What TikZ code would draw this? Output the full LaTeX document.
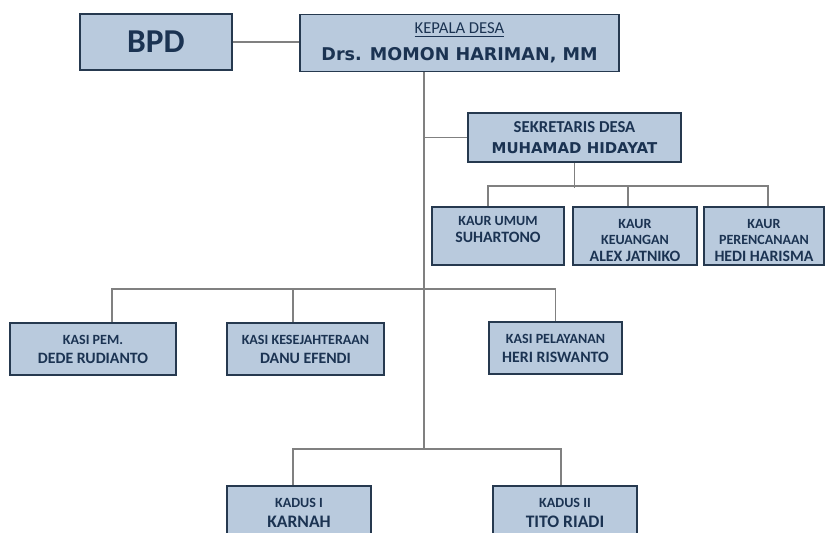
\documentclass[tikz,border=0pt]{standalone}
\usepackage{fontspec}
\setmainfont{Carlito}
\newfontfamily\widefont{DejaVu Sans}
\usetikzlibrary{calc}
\definecolor{Ink}{HTML}{1B3352}
\definecolor{Frame}{HTML}{26394F}
\definecolor{Steel}{HTML}{B9CADD}
\definecolor{Wire}{HTML}{808080}
\newcommand\ttl{\fontsize{8}{9}\selectfont}
\newcommand\nm{\fontsize{9}{9.5}\selectfont}
\newcommand\pad{\rule{0pt}{10pt}}

\begin{document}
\begin{tikzpicture}[x=0.02cm,y=-0.02cm,
  box/.style={draw=Frame,line width=1pt,fill=Steel,inner sep=0pt,align=center,text=Ink,font=\fontsize{9}{9.5}\selectfont\bfseries},
  wh/.style 2 args={minimum width=#1*0.02cm,minimum height=#2*0.02cm},
  link/.style={draw=Wire,line width=1pt}
]
  \clip (0,0) rectangle (825,533);
  \fill[white] (0,0) rectangle (825,533);

  \node[box,wh={152}{56}] (bpd) at (156,42) {\fontsize{19}{21}\selectfont BPD};
  \node[box,wh={319}{57}] (kades) at (459.5,43)
    {{\fontsize{9.5}{10}\selectfont\mdseries\underline{KEPALA DESA}}\\[5.5pt]
     {\widefont\fontsize{10}{11}\selectfont Drs. MOMON HARIMAN, MM}};

  \node[box,wh={213}{49}] (sekdes) at (574.5,137.5)
    {{\fontsize{9.5}{10}\selectfont SEKRETARIS DESA}\\[2.5pt]
     {\widefont\fontsize{8.5}{10}\selectfont MUHAMAD HIDAYAT}};

  \node[box,wh={132}{58}] (umum) at (498,236) {\pad\ttl KAUR UMUM\\ \nm SUHARTONO\\ \nm\strut};
  \node[box,wh={124}{58}] (keu) at (635,236) {\pad\ttl KAUR\\ \ttl KEUANGAN\\ \nm ALEX JATNIKO};
  \node[box,wh={120}{58}] (renc) at (764,236) {\pad\ttl KAUR\\ \ttl PERENCANAAN\\ \nm HEDI HARISMA};

  \node[box,wh={166}{52}] (pem) at (93,349) {\ttl KASI PEM.\\[1.3pt] DEDE RUDIANTO};
  \node[box,wh={157}{52}] (kesra) at (305.5,349) {\ttl KASI KESEJAHTERAAN\\[1.3pt] DANU EFENDI};
  \node[box,wh={133}{52}] (layan) at (555.5,348) {\ttl KASI PELAYANAN\\[1.3pt] HERI RISWANTO};

  \node[box,wh={144}{54}] (kadus1) at (299,513) {\ttl KADUS I\\[2pt] \fontsize{10}{10}\selectfont KARNAH};
  \node[box,wh={144}{54}] (kadus2) at (565,513) {\ttl KADUS II\\[2pt] \fontsize{10}{10}\selectfont TITO RIADI};

  \coordinate (bus) at (424,450);
  \draw[link] (bpd.east) -- (bpd.east -| kades.west);
  \draw[link] (kades.south -| bus) -- (bus);
  \draw[link] (sekdes.west) -- (sekdes.west -| bus);
  \draw[link] (sekdes.south) -- ++(0,25);
  \draw[link] ($(umum.north)+(-10,0)$) |- ($(renc.north)+(4,-20)$) -- ++(0,20);
  \draw[link] ($(keu.north)+(-7,0)$) -- ++(0,-20);
  \draw[link] ($(pem.north)+(19,0)$) |- ($(layan.north)+(0,-32)$) -- (layan.north);
  \draw[link] ($(kesra.north)+(-12.5,0)$) -- ++(0,-32);
  \draw[link] ($(kadus1.north)+(-6,0)$) |- ($(kadus2.north)+(-4,-36)$) -- ++(0,36);
\end{tikzpicture}
\end{document}
